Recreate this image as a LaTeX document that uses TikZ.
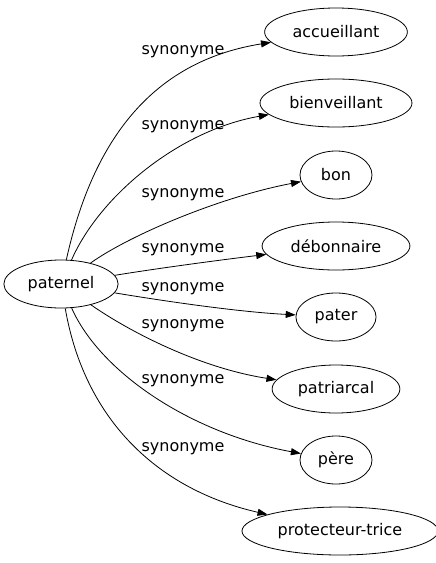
\documentclass[tikz,border=0pt]{standalone}
\usepackage{fontspec}
\setmainfont{DejaVu Sans}
\usetikzlibrary{arrows.meta}
\usetikzlibrary{shapes.geometric}

\begin{document}
\begin{tikzpicture}[x=1pt,y=-1pt,
		word/.style={draw, ellipse, line width=0.8pt, inner xsep=7pt, inner ysep=0pt, minimum width=72pt, minimum height=48pt, font=\fontsize{16}{18}\selectfont},
		syn/.style={-{Triangle[length=10pt,width=7pt]}, line width=0.8pt},
		rel/.style={font=\fontsize{16}{18}\selectfont}]
		\useasboundingbox (0,0) rectangle (436,563);
		\node[word] (paternel) at (61,284) {paternel};
		\node[word] (accueillant) at (336,32) {accueillant};
		\node[word] (bienveillant) at (336,103) {bienveillant};
		\node[word] (bon) at (336,175) {bon};
		\node[word] (debonnaire) at (336,246) {débonnaire};
		\node[word] (pater) at (336,317) {pater};
		\node[word] (patriarcal) at (336,389) {patriarcal};
		\node[word] (pere) at (336,460) {père};
		\node[word] (protecteur) at (340,531) {protecteur-trice};
		\draw[syn] (paternel) .. controls (95,130) and (160,60) .. (accueillant);
		\draw[syn] (paternel) .. controls (100,195) and (180,130) .. (bienveillant);
		\draw[syn] (paternel) .. controls (130,235) and (220,197) .. (bon);
		\draw[syn] (paternel) .. controls (160,268) and (220,260) .. (debonnaire);
		\draw[syn] (paternel) .. controls (170,302) and (240,312) .. (pater);
		\draw[syn] (paternel) .. controls (130,332) and (200,368) .. (patriarcal);
		\draw[syn] (paternel) .. controls (100,372) and (190,433) .. (pere);
		\draw[syn] (paternel) .. controls (85,422) and (160,490) .. (protecteur);
		\node[rel] (s1) at (183,52) {synonyme};
		\node[rel] (s2) at (183,127) {synonyme};
		\node[rel] (s3) at (183,195) {synonyme};
		\node[rel] (s4) at (183,250) {synonyme};
		\node[rel] (s5) at (183,289) {synonyme};
		\node[rel] (s6) at (183,326) {synonyme};
		\node[rel] (s7) at (183,381) {synonyme};
		\node[rel] (s8) at (183,449) {synonyme};
	\end{tikzpicture}
\end{document}
